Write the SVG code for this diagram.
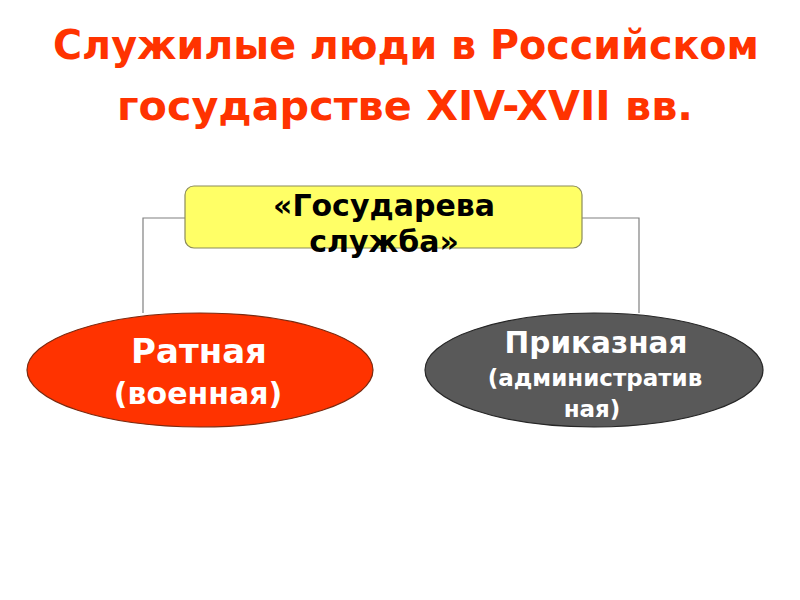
<svg xmlns="http://www.w3.org/2000/svg" width="800" height="600" viewBox="0 0 800 600">
<style>
.t{font-family:"DejaVu Sans","Liberation Sans",sans-serif;font-weight:bold;text-anchor:middle}
.title{fill:#FF3300;font-size:40px}
.w{fill:#FFFFFF}
.conn{fill:none;stroke:#808080;stroke-width:1.2}
</style>
<rect width="800" height="600" fill="#FFFFFF"/>
<g id="title">
<text class="t title" x="406" y="59" textLength="706" lengthAdjust="spacingAndGlyphs">Служилые люди в Российском</text>
<text class="t title" x="405" y="120" textLength="576" lengthAdjust="spacingAndGlyphs">государстве XIV-XVII вв.</text>
</g>
<g id="connectors">
<polyline class="conn" points="185,218 143,218 143,313"/>
<polyline class="conn" points="582,218 639,218 639,313"/>
</g>
<g id="gosudareva">
<rect x="185" y="186" width="397" height="62" rx="9" fill="#FFFF66" stroke="#8C8C5A" stroke-width="1.2"/>
<text class="t" x="384" y="216" font-size="30" fill="#000">«Государева</text>
<text class="t" x="384" y="252" font-size="30" fill="#000">служба»</text>
</g>
<g id="ratnaya">
<ellipse cx="200" cy="370" rx="173" ry="57" fill="#FF3300" stroke="#7a2a10" stroke-width="1.2"/>
<text class="t w" x="199" y="363" font-size="34">Ратная</text>
<text class="t w" x="198" y="404" font-size="30">(военная)</text>
</g>
<g id="prikaznaya">
<ellipse cx="594" cy="370" rx="169" ry="57" fill="#595959" stroke="#262626" stroke-width="1.2"/>
<text class="t w" x="596" y="353" font-size="29.5">Приказная</text>
<text class="t w" x="595" y="386" font-size="23">(административ</text>
<text class="t w" x="592" y="417" font-size="23">ная)</text>
</g>
</svg>
